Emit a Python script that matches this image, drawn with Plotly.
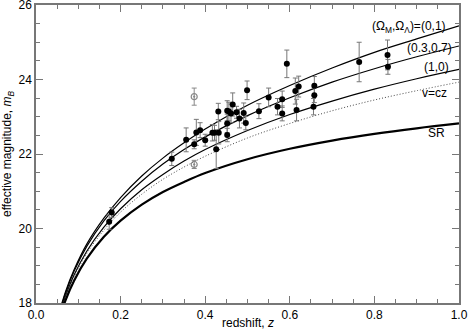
import plotly.graph_objects as go

# model curves (redshift grid and magnitudes)
z_grid = [0.055, 0.07, 0.09, 0.12, 0.16, 0.2, 0.25, 0.3, 0.35, 0.4, 0.5, 0.6, 0.7, 0.8, 0.9, 1.0]
m_01 = [17.75, 18.31, 18.89, 19.58, 20.27, 20.83, 21.41, 21.89, 22.30, 22.67, 23.31, 23.84, 24.31, 24.73, 25.09, 25.44]
m_0307 = [17.72, 18.27, 18.85, 19.52, 20.20, 20.73, 21.27, 21.73, 22.12, 22.46, 23.03, 23.51, 23.93, 24.29, 24.61, 24.90]
m_10 = [17.66, 18.19, 18.75, 19.39, 20.03, 20.53, 21.04, 21.45, 21.81, 22.12, 22.63, 23.06, 23.42, 23.74, 24.02, 24.27]
m_vcz = [17.63, 18.16, 18.70, 19.33, 19.95, 20.44, 20.92, 21.32, 21.65, 21.94, 22.43, 22.82, 23.16, 23.45, 23.70, 23.93]
m_sr = [17.57, 18.08, 18.60, 19.19, 19.77, 20.21, 20.64, 20.98, 21.25, 21.49, 21.86, 22.14, 22.36, 22.54, 22.69, 22.82]

# supernovae (filled)
sn_z = [0.179, 0.173, 0.321, 0.355, 0.374, 0.379, 0.388, 0.400, 0.417, 0.422, 0.432, 0.426,
        0.431, 0.452, 0.456, 0.452, 0.452, 0.465, 0.461, 0.474, 0.481, 0.491, 0.496, 0.499,
        0.527, 0.550, 0.593, 0.571, 0.582, 0.582, 0.613, 0.621, 0.616, 0.658, 0.658, 0.656,
        0.764, 0.831, 0.832]
sn_m = [20.43, 20.18, 21.87, 22.38, 22.26, 22.58, 22.64, 22.37, 22.57, 22.57, 22.57, 22.13,
        23.14, 23.16, 23.14, 22.82, 22.51, 23.33, 23.09, 23.12, 22.95, 23.10, 22.83, 23.71,
        23.15, 23.52, 24.42, 23.27, 23.47, 23.09, 23.69, 23.81, 23.18, 23.83, 23.58, 23.27,
        24.47, 24.66, 24.34]
sn_err = [0.13, 0.20, 0.18, 0.32, 0.12, 0.35, 0.20, 0.16, 0.22, 0.20, 0.30, 0.52,
          0.22, 0.27, 0.25, 0.25, 0.18, 0.31, 0.25, 0.16, 0.25, 0.27, 0.18, 0.25,
          0.20, 0.25, 0.37, 0.22, 0.22, 0.20, 0.35, 0.28, 0.29, 0.25, 0.20, 0.22,
          0.53, 0.40, 0.20]

# open (grey) points
op_z = [0.374, 0.374]
op_m = [23.54, 21.72]
op_err = [0.23, 0.11]

fig = go.Figure()

for m, w, dash, col in [(m_01, 1.2, "solid", "black"), (m_0307, 1.2, "solid", "black"),
                        (m_10, 1.2, "solid", "black"), (m_vcz, 1, "1px,2px", "#444"),
                        (m_sr, 2.2, "solid", "black")]:
    fig.add_trace(go.Scatter(x=z_grid, y=m, mode="lines", line_shape="spline",
                             line=dict(color=col, width=w, dash=dash), showlegend=False))

fig.add_trace(go.Scatter(x=op_z, y=op_m, mode="markers",
                         marker=dict(symbol="circle-open-dot", size=6, color="#888", line=dict(width=1.2)),
                         error_y=dict(type="data", array=op_err, color="#888", thickness=1, width=2.5),
                         showlegend=False))
fig.add_trace(go.Scatter(x=sn_z, y=sn_m, mode="markers",
                         marker=dict(size=6, color="black"),
                         error_y=dict(type="data", array=sn_err, color="#777", thickness=1, width=2.5),
                         showlegend=False))

labels = [(0.974, 25.41, "(Ω<sub>M</sub>,Ω<sub>Λ</sub>)=(0,1)"), (0.988, 24.85, "(0.3,0.7)"),
          (0.981, 24.34, "(1,0)"), (0.976, 23.64, "v=cz"), (0.972, 22.56, "SR")]
for x, y, t in labels:
    fig.add_annotation(x=x, y=y, text=t, showarrow=False, xanchor="right", yanchor="middle",
                       font=dict(size=12, color="black"))

# axis titles as annotations so the plot area keeps its place
fig.add_annotation(x=0.5, y=0, xref="paper", yref="paper", yshift=-20, yanchor="middle",
                   text="redshift, <i>z</i>", showarrow=False, font=dict(size=12, color="black"))
fig.add_annotation(x=0, y=0.5, xref="paper", yref="paper", xshift=-28, xanchor="center",
                   textangle=-90, text="effective magnitude, <i>m</i><sub><i>B</i></sub>",
                   showarrow=False, font=dict(size=12, color="black"))

axis_common = dict(ticks="inside", mirror="ticks", showline=True, linecolor="#777", linewidth=1.5,
                   tickcolor="#777", ticklen=7, showgrid=False, zeroline=False, automargin=False,
                   ticklabeloverflow="allow", tickfont=dict(size=12, color="black"))
fig.update_xaxes(range=[0, 1], dtick=0.2, tickformat=".1f",
                 minor=dict(dtick=0.05, ticks="inside", ticklen=4, tickcolor="#777"), **axis_common)
fig.update_yaxes(range=[18, 26], dtick=2,
                 minor=dict(dtick=0.5, ticks="inside", ticklen=4, tickcolor="#777"), **axis_common)

fig.update_layout(width=469, height=333, margin=dict(l=36, r=10, t=5, b=30),
                  plot_bgcolor="white", paper_bgcolor="white",
                  font=dict(family="Liberation Sans, Arial, sans-serif", color="black"))

# page body has a default 8px margin; drop it so the figure sits at the window's corner
fig.write_html("out.html", config={"displayModeBar": False},
               post_script="document.body.style.margin='0';")
